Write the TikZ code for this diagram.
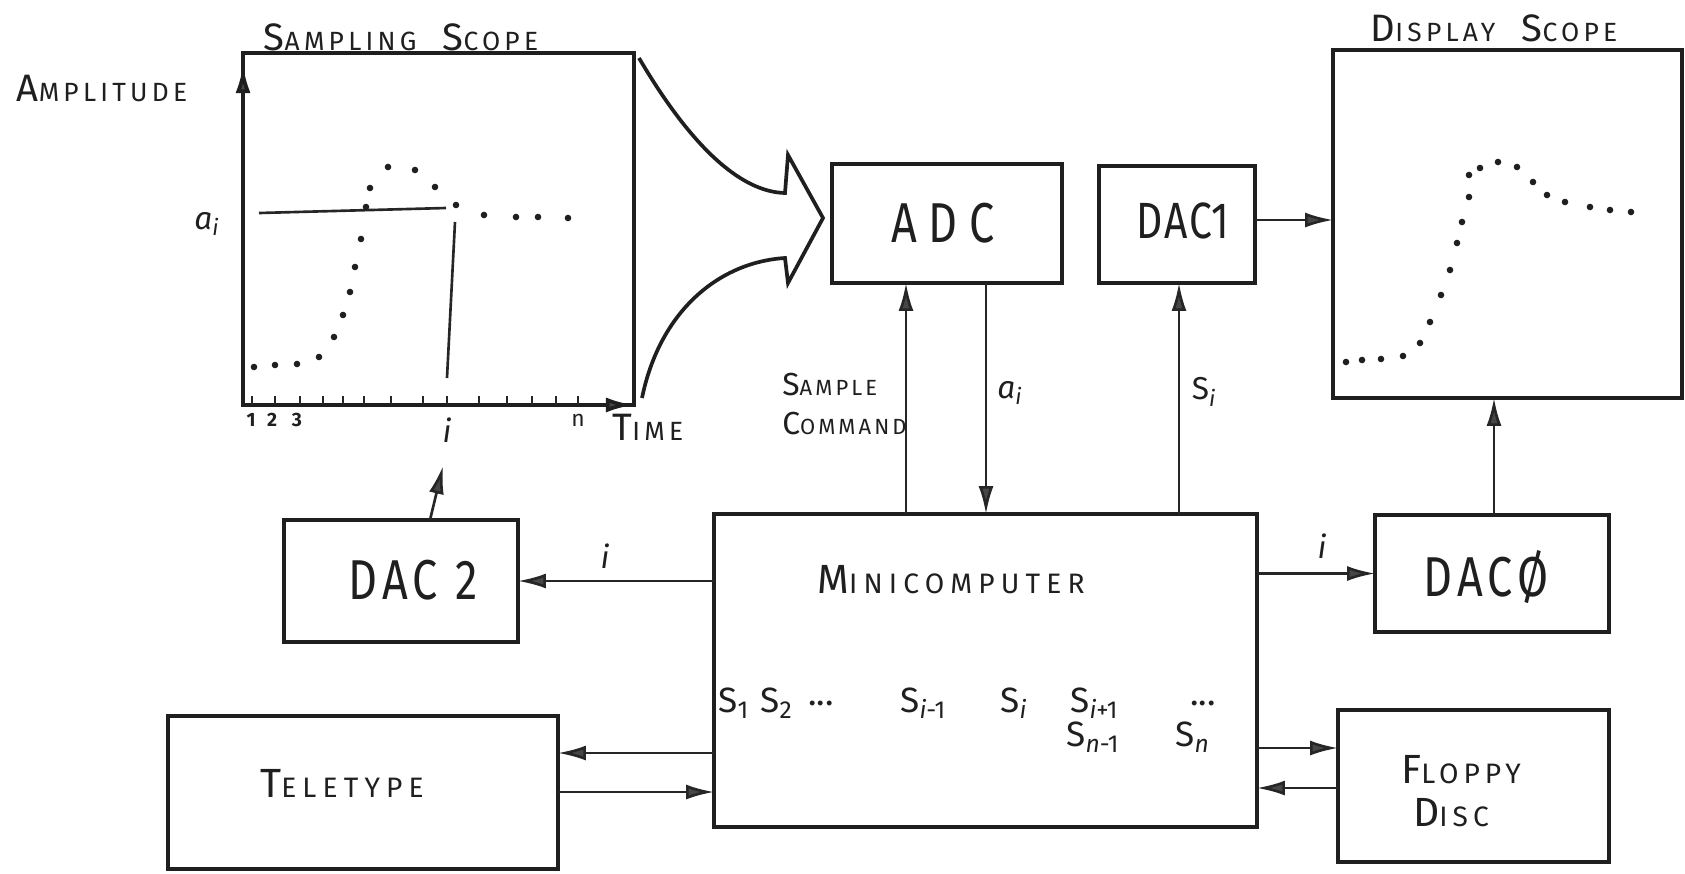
\documentclass[tikz,border=0pt]{standalone}
\usepackage{fontspec}
\setmainfont{Fira Sans}
\usepackage{graphicx}
\usetikzlibrary{arrows.meta,calc}
\newcommand\BL[1]{\scalebox{1.45}{#1}}
\newcommand\NR[1]{\scalebox{0.8}[1]{#1}}
\begin{document}
\begin{tikzpicture}[x=0.02cm,y=-0.02cm,
  ink/.style={draw=black!88, line width=2.1pt},
  box/.style={ink, rectangle, inner sep=0pt, outer sep=0pt},
  conn/.style={draw=black!85, line width=1.5pt},
  tip/.style={-{Latex[length=0.56cm,width=0.3cm,fill=black!72]}},
  hw/.style={font=\fontsize{15}{17}\selectfont\addfontfeatures{LetterSpace=16}, inner sep=0pt, text=black!88},
  big/.style={font=\fontsize{32}{34}\selectfont\addfontfeatures{LetterSpace=12}, inner sep=0pt, text=black!88},
  lab/.style={font=\fontsize{18}{20}\selectfont, inner sep=0pt, text=black!88},
  sval/.style={font=\fontsize{20}{22}\selectfont, inner sep=0pt, text=black!88, anchor=west},
  num/.style={font=\fontsize{11}{12}\selectfont\bfseries, inner sep=0pt, text=black!88}
]
\fill[white] (0,0) rectangle (1685,873);
\useasboundingbox (0,0) rectangle (1685,873);

% boxes
\node[box, minimum width=7.82cm, minimum height=7.04cm] (samp) at (438.5,229) {};
\node[box, minimum width=6.98cm, minimum height=6.96cm] (disp) at (1507.5,224) {};
\node[box, minimum width=4.6cm, minimum height=2.38cm] (adc) at (947,223.5) {};
\node[box, minimum width=3.12cm, minimum height=2.34cm] (dac1) at (1177,224.5) {};
\node[box, minimum width=4.68cm, minimum height=2.44cm] (dac2) at (401,581) {};
\node[box, minimum width=10.86cm, minimum height=6.26cm] (mini) at (985.5,670.5) {};
\node[box, minimum width=4.68cm, minimum height=2.34cm] (dac0) at (1492,573.5) {};
\node[box, minimum width=5.42cm, minimum height=3.04cm] (flop) at (1473.5,786) {};
\node[box, minimum width=7.8cm, minimum height=3.06cm] (tele) at (363,792.5) {};

% box texts
\node[big, font=\fontsize{32}{34}\selectfont\addfontfeatures{LetterSpace=25}] (tadc) at (943,223) {\NR{ADC}};
\node[big, font=\fontsize{29}{31}\selectfont\addfontfeatures{LetterSpace=5}] (tdac1) at (1183,221) {\NR{DAC1}};
\node[big] (tdac2) at (413,580) {\NR{DAC 2}};
\node[big] (tdac0) at (1486,577) {\NR{DACØ}};
\node[hw, font=\fontsize{16}{17}\selectfont\addfontfeatures{LetterSpace=22}] (tmini) at (951,580) {\BL{M}INICOMPUTER};
\node[hw, font=\fontsize{16}{17}\selectfont\addfontfeatures{LetterSpace=22}] (ttele) at (342,783) {\BL{T}ELETYPE};
\node[hw, font=\fontsize{16}{17}\selectfont\addfontfeatures{LetterSpace=18}] (tflop) at (1461,770) {\BL{F}LOPPY};
\node[hw, font=\fontsize{16}{17}\selectfont\addfontfeatures{LetterSpace=18}] (tdisc) at (1451,813) {\BL{D}ISC};

% titles and axis labels
\node[hw] (tsamp) at (401,37) {\BL{S}AMPLING\hspace{1em}\BL{S}COPE};
\node[hw] (tdisp) at (1494,28) {\BL{D}ISPLAY\hspace{1em}\BL{S}COPE};
\node[hw] (tamp) at (102,88) {\BL{A}MPLITUDE};
\node[hw] (ttime) at (648,427) {\BL{T}IME};
\node[hw, align=left, anchor=west, font=\fontsize{12.5}{22}\selectfont\addfontfeatures{LetterSpace=14}] (tsc) at (782,404) {\BL{S}AMPLE\\\BL{C}OMMAND};

% sampling scope axes
\draw[ink, tip] (samp.south west) -- ($(samp.north west)+(0,12)$);
\draw[ink, tip] (samp.south west) -- (samp.south east);
\foreach \t in {252,275,300,323,343,364,391,423,447,479,507,532,556,578}
  \draw[conn] (\t,405) -- (\t,396);
\node[num] (n1) at (251,420) {1};
\node[num] (n2) at (272,420) {2};
\node[num] (n3) at (297,420) {3};
\node[lab] (ni) at (447,430) {\textit{i}};
\node[lab, font=\fontsize{13}{14}\selectfont] (nn) at (578,420) {n};
\node[lab] (lai) at (207,224) {\textit{a}\textsubscript{\textit{i}}};
\draw[conn] (259,213) -- (446,208);
\draw[conn] (455,222) -- (447,378);
\foreach \p in {(254,367),(275,365),(297,364),(319,357),(334,337),(343,315),(350,292),(355,267),(361,239),(366,207),(370,188),(388,167),(415,170),(435,187),(456,205),(484,215),(516,217),(538,217),(568,218)}
  \fill[black!88] \p circle (3.3);

% display scope dots
\foreach \p in {(1346,362),(1362,360),(1381,359),(1403,356),(1420,343),(1430,322),(1441,295),(1450,270),(1457,243),(1462,222),(1469,197),(1469,175),(1480,168),(1498,162),(1517,167),(1533,182),(1547,195),(1565,202),(1590,207),(1610,210),(1631,212)}
  \fill[black!88] \p circle (3.3);

% hollow arrow from sampling scope to ADC
\draw[ink, line join=miter] (639,58) .. controls (690,145) and (740,192) .. (785,193)
  -- (788,155) -- (823,218) -- (788,283) -- (785,258)
  .. controls (720,262) and (660,310) .. (642,398);

% connectors
\draw[conn,tip] (mini.west |- dac2.east) -- (dac2.east);
\node[lab] (li2) at (605,556) {\textit{i}};
\coordinate (itick) at (443,466);
\draw[conn,tip] ($(dac2.north)+(29,0)$) -- (itick);
\draw[conn,tip] (mini.west |- 0,753) -- (tele.east |- 0,753);
\draw[conn,tip] (tele.east |- 0,792) -- (mini.west |- 0,792);
\draw[conn,tip] (mini.east |- 0,748) -- (flop.west |- 0,748);
\draw[conn,tip] (flop.west |- 0,788) -- (mini.east |- 0,788);
\draw[conn,tip] (mini.east |- dac0.west) -- (dac0.west);
\node[lab] (li0) at (1322,546) {\textit{i}};
\draw[conn,tip] (dac0.north -| 1494,0) -- (disp.south -| 1494,0);
\draw[conn,tip] (mini.north -| 906,0) -- (adc.south -| 906,0);
\draw[conn,tip] (adc.south -| 986,0) -- (mini.north -| 986,0);
\node[lab] (lai2) at (1010,393) {\textit{a}\textsubscript{\textit{i}}};
\draw[conn,tip] (mini.north -| 1179,0) -- (dac1.south -| 1179,0);
\node[lab] (lsi) at (1204,392) {S\textsubscript{\textit{i}}};
\draw[conn,tip] (dac1.east |- 0,220) -- (disp.west |- 0,220);

% sample values in the minicomputer
\node[sval] (s1) at (718,703) {S\textsubscript{1}};
\node[sval] (s2) at (760,703) {S\textsubscript{2}};
\node[sval] (sd1) at (808,703) {...};
\node[sval] (sim) at (900,703) {S\textsubscript{\textit{i}-1}};
\node[sval] (si) at (1000,703) {S\textsubscript{\textit{i}}};
\node[sval] (sip) at (1070,703) {S\textsubscript{\textit{i}+1}};
\node[sval] (sd2) at (1190,703) {...};
\node[sval] (snm) at (1066,737) {S\textsubscript{\textit{n}-1}};
\node[sval] (sn) at (1175,737) {S\textsubscript{\textit{n}}};
\end{tikzpicture}
\end{document}
